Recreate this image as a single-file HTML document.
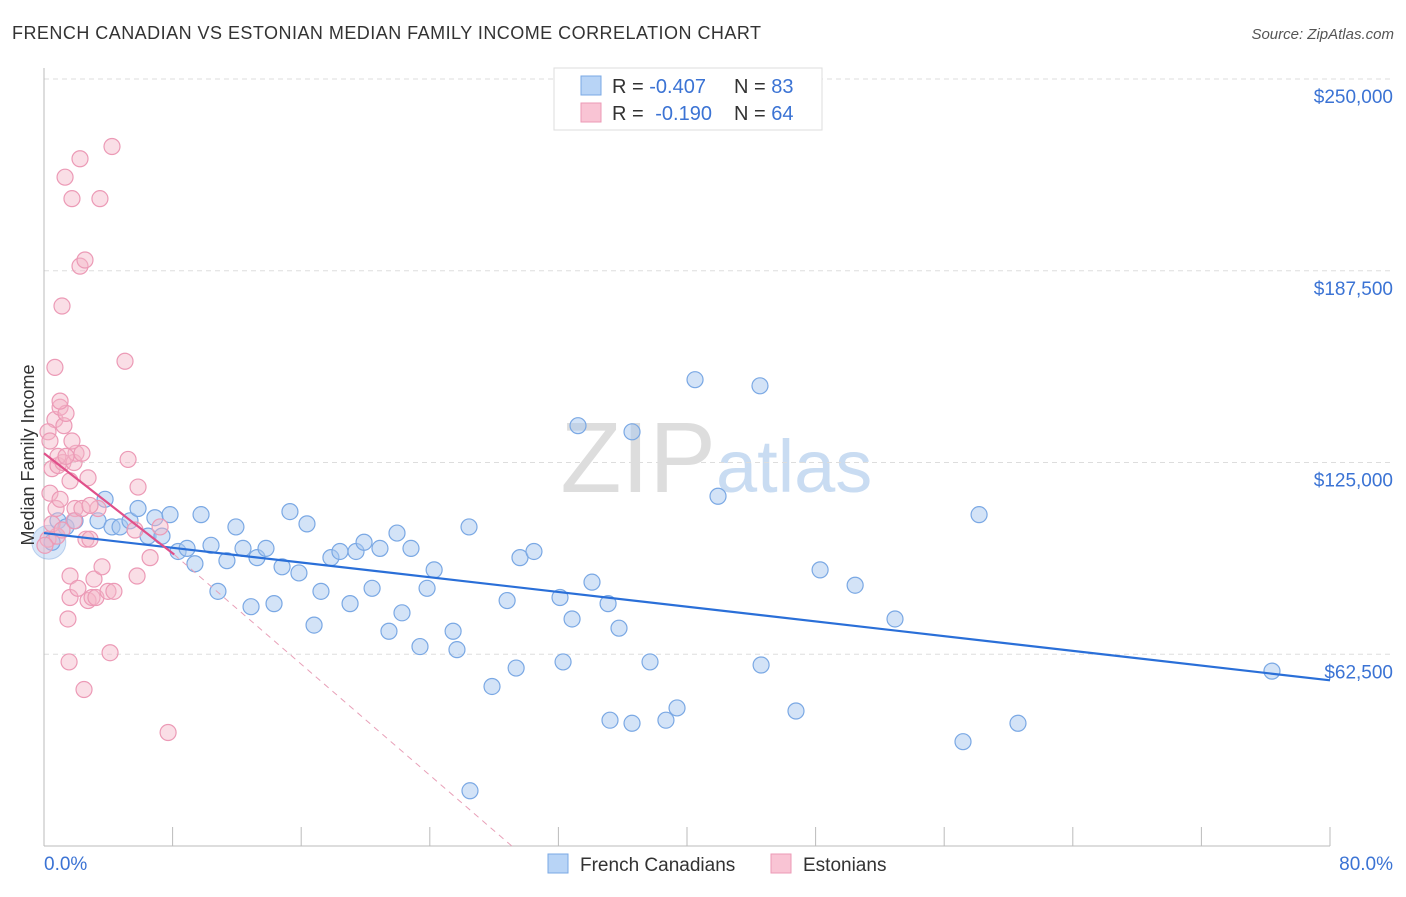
<!DOCTYPE html>
<html><head><meta charset="utf-8"><style>
body{margin:0;background:#fff;font-family:"Liberation Sans",sans-serif;}
svg text{font-family:"Liberation Sans",sans-serif;}
</style></head><body>
<svg id="chart" width="1406" height="892">
<text x="12" y="39" font-size="18" fill="#333" textLength="749">FRENCH CANADIAN VS ESTONIAN MEDIAN FAMILY INCOME CORRELATION CHART</text>
<text x="1394" y="39" font-size="15" fill="#555" font-style="italic" text-anchor="end">Source: ZipAtlas.com</text>
<text x="716" y="492" font-size="100" fill="#ddd" text-anchor="end" font-family="Liberation Serif">ZIP</text>
<text x="716" y="492" font-size="74" fill="#c9dcf2">atlas</text>
<g id="grid"></g>
<g id="axes"></g>
<g id="marks"></g>
<text x="34" y="455" font-size="18" fill="#333" transform="rotate(-90 34 455)" text-anchor="middle">Median Family Income</text>
<g>
<rect x="554" y="68" width="268" height="62" fill="#fff" stroke="#ddd"/>
<rect x="581" y="76" width="20" height="19" fill="#b8d4f6" stroke="#7aa8e4"/>
<rect x="581" y="103" width="20" height="19" fill="#f9c4d4" stroke="#ec9ab6"/>
<text x="612" y="93" font-size="20" fill="#333">R = <tspan fill="#3b73d4">-0.407</tspan></text>
<text x="734" y="93" font-size="20" fill="#333">N = <tspan fill="#3b73d4">83</tspan></text>
<text x="612" y="120" font-size="20" fill="#333">R = <tspan fill="#3b73d4" dx="6">-0.190</tspan></text>
<text x="734" y="120" font-size="20" fill="#333">N = <tspan fill="#3b73d4">64</tspan></text>
</g>
<g>
<rect x="548" y="854" width="20" height="19" fill="#b8d4f6" stroke="#7aa8e4"/>
<text x="580" y="871" font-size="19" fill="#333">French Canadians</text>
<rect x="771" y="854" width="20" height="19" fill="#f9c4d4" stroke="#ec9ab6"/>
<text x="803" y="871" font-size="19" fill="#333">Estonians</text>
</g>
</svg>
<script>
const yTicks=[62500,125000,187500,250000];
const yTickLabels=["$62,500","$125,000","$187,500","$250,000"];
const blueX=[0.5,0.87,1.37,1.93,3.36,3.8,4.23,4.73,5.35,5.85,6.47,6.9,7.34,7.84,8.34,8.9,9.39,9.77,10.39,10.82,11.38,11.94,12.38,12.88,13.25,13.81,14.31,14.81,15.3,15.86,16.36,16.8,17.23,17.85,18.41,19.04,19.41,19.91,20.41,20.9,21.46,21.96,22.27,22.83,23.39,23.83,24.27,25.45,25.69,26.44,26.5,27.87,28.81,29.37,29.61,30.48,32.1,32.29,32.85,33.22,34.09,35.09,35.21,35.77,36.58,36.58,37.7,38.69,39.38,40.5,41.93,44.54,44.61,46.78,48.28,50.46,52.94,57.17,58.17,60.59,76.39];
const blueY=[99,106,104,106,106,113,104,104,106,110,101,107,101,108,96,97,92,108,98,83,93,104,97,78,94,97,79,91,109,89,105,72,83,94,96,79,96,99,84,97,70,102,76,97,65,84,90,70,64,104,18,52,80,58,94,96,81,60,74,137,86,79,41,71,40,135,60,41,45,152,114,150,59,44,90,85,74,34,108,40,57];
const pinkX=[0.25,0.37,0.5,0.68,0.68,0.75,0.81,0.87,1,1,1.12,1.18,1.24,1.31,1.37,1.49,1.56,1.62,1.62,1.74,1.87,1.93,1.99,2.11,2.24,2.24,2.36,2.49,2.55,2.61,2.74,2.86,2.99,3.11,3.23,3.36,3.48,3.61,3.98,4.11,4.23,4.35,5.04,5.23,5.66,5.79,5.85,6.6,7.22,7.72,0.25,0.5,0.87,1.37,1.74,2.74,1,1.87,2.36,2.86,0.37,0.06,1.12,1.62];
const pinkY=[100,115,123,156,139,110,101,124,113,143,176,125,137,218,141,74,60,88,81,211,125,110,128,84,224,189,128,51,191,100,80,100,81,87,81,110,211,91,83,63,228,83,158,126,103,88,117,94,104,37,135,105,127,127,132,120,145,106,110,111,132,98,103,119];
const NS="http://www.w3.org/2000/svg";
const X0=44,X1=1330,Y0=846,Y1=79;
const sx=v=>X0+(v/80)*(X1-X0);
const sy=v=>Y0-(v/250000)*(Y0-Y1);
function mk(tag,at,parent){const e=document.createElementNS(NS,tag);for(const k in at)e.setAttribute(k,at[k]);document.getElementById(parent).appendChild(e);return e;}
yTicks.forEach((t,i)=>{
 const l=mk('line',{x1:X0,x2:1394,y1:sy(t),y2:sy(t),stroke:'#ddd','stroke-dasharray':'5,4'},'grid');
 
 
 const tx=mk('text',{x:1393,y:sy(t)+24,'font-size':19,fill:'#3b73d4','text-anchor':'end'},'axes');
 tx.textContent=yTickLabels[i];
 
 
});
const ax=mk('line',{x1:X0,x2:X1,y1:Y0,y2:Y0,stroke:'#bbb'},'axes');


const ay=mk('line',{x1:X0,x2:X0,y1:68,y2:Y0,stroke:'#bbb'},'axes');


for(let p=0;p<=80;p+=8){
 const t=mk('line',{x1:sx(p),x2:sx(p),y1:827,y2:Y0,stroke:'#bbb'},'axes');
 
 
}
const xl=mk('text',{x:44,y:870,'font-size':19,fill:'#3b73d4'},'axes');xl.textContent='0.0%';


const xr=mk('text',{x:1393,y:870,'font-size':19,fill:'#3b73d4','text-anchor':'end'},'axes');xr.textContent='80.0%';


const big=mk('circle',{cx:sx(0.3),cy:sy(99000),r:17,fill:'rgba(168,200,240,0.45)',stroke:'rgba(107,155,216,0.4)'},'marks');


blueX.forEach((v,i)=>{const c=mk('circle',{cx:sx(v),cy:sy(blueY[i]*1000),r:8,fill:'rgba(168,200,240,0.5)',stroke:'#7aa8e4','stroke-width':1.2},'marks');
 
 });
pinkX.forEach((v,i)=>{const c=mk('circle',{cx:sx(v),cy:sy(pinkY[i]*1000),r:8,fill:'rgba(244,182,200,0.45)',stroke:'#ec9ab6','stroke-width':1.2},'marks');
 
 });
const bl=mk('line',{x1:sx(0),y1:sy(102000),x2:sx(80),y2:sy(54000),stroke:'#2a6fd8','stroke-width':2.2},'marks');


const pd=mk('line',{x1:sx(8.1),y1:sy(95000),x2:sx(29.1),y2:sy(0),stroke:'#e8a0b8','stroke-width':1,'stroke-dasharray':'6,5'},'marks');


const pl=mk('line',{x1:sx(0),y1:sy(128000),x2:sx(8.1),y2:sy(95000),stroke:'#e0508a','stroke-width':2.2},'marks');


</script>
</body></html>
